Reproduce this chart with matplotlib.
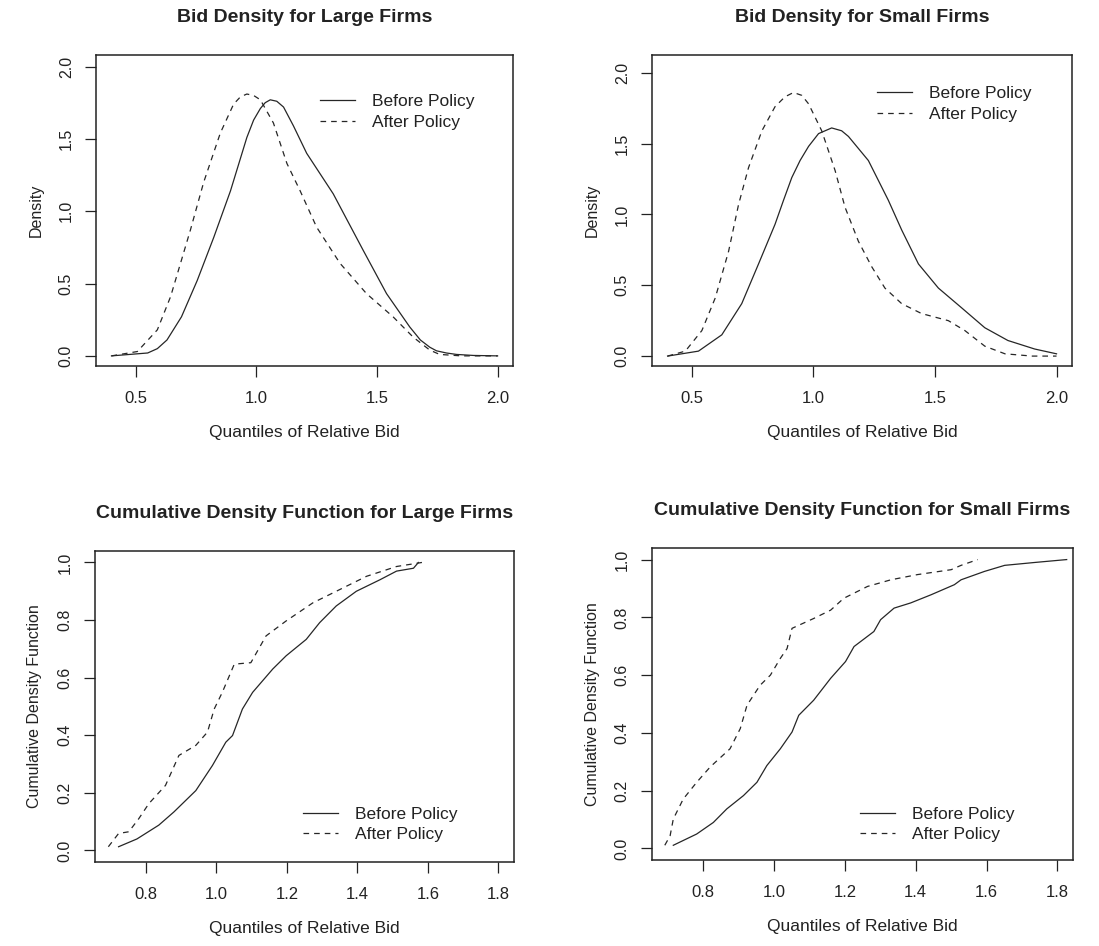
import numpy as np
import matplotlib.pyplot as plt

plt.rcParams['font.family'] = ['Liberation Sans', 'DejaVu Sans']

# Bid density, large firms
large_before_x = [0.40, 0.55, 0.59, 0.63, 0.69, 0.755, 0.824, 0.893, 0.961, 0.989, 1.017, 1.037,
                  1.058, 1.085, 1.113, 1.154, 1.209, 1.319, 1.443, 1.54, 1.636, 1.68, 1.719,
                  1.747, 1.788, 1.83, 1.9, 2.0]
large_before_y = [0.0, 0.02, 0.05, 0.11, 0.27, 0.52, 0.82, 1.14, 1.51, 1.63, 1.71, 1.75,
                  1.77, 1.76, 1.72, 1.59, 1.40, 1.12, 0.73, 0.43, 0.20, 0.11, 0.06,
                  0.035, 0.02, 0.01, 0.003, 0.0]
large_after_x = [0.40, 0.507, 0.59, 0.645, 0.686, 0.727, 0.782, 0.851, 0.906, 0.934, 0.961,
                 0.989, 1.017, 1.071, 1.127, 1.182, 1.25, 1.347, 1.457, 1.567, 1.65, 1.719,
                 1.76, 1.85, 2.0]
large_after_y = [0.0, 0.03, 0.18, 0.41, 0.64, 0.87, 1.20, 1.54, 1.74, 1.79, 1.81,
                 1.80, 1.77, 1.61, 1.33, 1.14, 0.89, 0.64, 0.43, 0.27, 0.13, 0.04,
                 0.01, 0.0, 0.0]

# Bid density, small firms
small_before_x = [0.40, 0.527, 0.623, 0.705, 0.774, 0.842, 0.877, 0.911, 0.945, 0.98, 1.021,
                  1.075, 1.116, 1.144, 1.226, 1.308, 1.363, 1.432, 1.514, 1.61, 1.705, 1.80,
                  1.91, 2.0]
small_before_y = [0.0, 0.035, 0.15, 0.37, 0.65, 0.93, 1.10, 1.26, 1.38, 1.48, 1.57,
                  1.61, 1.59, 1.55, 1.38, 1.10, 0.89, 0.65, 0.48, 0.34, 0.20, 0.11,
                  0.05, 0.016]
small_after_x = [0.40, 0.473, 0.541, 0.596, 0.651, 0.692, 0.733, 0.788, 0.842, 0.883, 0.918,
                 0.952, 0.98, 1.034, 1.089, 1.13, 1.185, 1.24, 1.294, 1.363, 1.445, 1.555,
                 1.623, 1.705, 1.788, 1.9, 2.0]
small_after_y = [0.0, 0.035, 0.18, 0.41, 0.74, 1.07, 1.33, 1.59, 1.76, 1.83, 1.86,
                 1.84, 1.78, 1.59, 1.31, 1.05, 0.81, 0.63, 0.48, 0.37, 0.30, 0.25,
                 0.18, 0.07, 0.016, 0.0, 0.0]

# Cumulative density, large firms
cdf_large_before_x = [0.723, 0.775, 0.837, 0.88, 0.942, 0.989, 1.027, 1.046, 1.074, 1.103,
                      1.16, 1.198, 1.255, 1.293, 1.34, 1.397, 1.464, 1.511, 1.559, 1.573]
cdf_large_before_y = [0.013, 0.04, 0.088, 0.134, 0.208, 0.295, 0.376, 0.399, 0.491, 0.549,
                      0.63, 0.676, 0.733, 0.791, 0.849, 0.90, 0.94, 0.97, 0.98, 1.0]
cdf_large_after_x = [0.694, 0.723, 0.752, 0.78, 0.809, 0.856, 0.894, 0.942, 0.975, 0.994,
                     1.017, 1.051, 1.098, 1.141, 1.198, 1.274, 1.35, 1.426, 1.511, 1.583]
cdf_large_after_y = [0.013, 0.059, 0.065, 0.11, 0.163, 0.226, 0.33, 0.365, 0.411, 0.491,
                     0.549, 0.647, 0.652, 0.745, 0.797, 0.86, 0.906, 0.952, 0.986, 1.0]

# Cumulative density, small firms
cdf_small_before_x = [0.716, 0.782, 0.829, 0.867, 0.914, 0.952, 0.98, 1.018, 1.051, 1.07,
                      1.112, 1.16, 1.202, 1.226, 1.282, 1.301, 1.339, 1.386, 1.443, 1.509,
                      1.528, 1.594, 1.651, 1.736, 1.826]
cdf_small_before_y = [0.011, 0.05, 0.09, 0.137, 0.183, 0.229, 0.287, 0.345, 0.403, 0.461,
                      0.513, 0.589, 0.647, 0.699, 0.751, 0.792, 0.832, 0.85, 0.878, 0.913,
                      0.93, 0.959, 0.98, 0.99, 1.0]
cdf_small_after_x = [0.692, 0.707, 0.716, 0.744, 0.782, 0.82, 0.876, 0.905, 0.924, 0.961,
                     0.99, 1.018, 1.037, 1.051, 1.112, 1.16, 1.197, 1.264, 1.33, 1.405,
                     1.50, 1.528, 1.575]
cdf_small_after_y = [0.011, 0.044, 0.102, 0.171, 0.229, 0.282, 0.345, 0.415, 0.496, 0.565,
                     0.60, 0.658, 0.692, 0.762, 0.796, 0.825, 0.866, 0.907, 0.93, 0.948,
                     0.965, 0.98, 1.0]

labels = ['Before Policy', 'After Policy']
density_ticks = [0.0, 0.5, 1.0, 1.5, 2.0]
density_xticks = [0.5, 1.0, 1.5, 2.0]
cdf_ticks = [0.0, 0.2, 0.4, 0.6, 0.8, 1.0]
cdf_xticks = [0.8, 1.0, 1.2, 1.4, 1.6, 1.8]

LINE = '#262626'
TXT = '#222222'


def style_axes(ax, xticks, yticks, xlim, ylim, ylabel):
    ax.set_xlim(*xlim)
    ax.set_ylim(*ylim)
    ax.set_xticks(xticks)
    ax.set_yticks(yticks)
    ax.set_xticklabels([f'{t:.1f}' for t in xticks], fontsize=12)
    ax.set_yticklabels([f'{t:.1f}' for t in yticks], rotation=90, va='center', fontsize=11.5)
    ax.tick_params(direction='out', length=8, width=0.9, color=TXT, labelcolor=TXT)
    ax.tick_params(axis='x', pad=10)
    ax.tick_params(axis='y', pad=8)
    for s in ax.spines.values():
        s.set_linewidth(1.1)
        s.set_color(TXT)
    ax.set_xlabel('Quantiles of Relative Bid', fontsize=12.5, labelpad=14, color=TXT)
    ax.set_ylabel(ylabel, fontsize=11.5, labelpad=11, color=TXT)


def draw(ax, bx, by, axx, ay, title, legend_anchor):
    ax.plot(bx, by, color=LINE, lw=0.9, label=labels[0])
    ax.plot(axx, ay, color=LINE, lw=0.9, linestyle=(0, (4.5, 4)), label=labels[1])
    ax.set_title(title, fontsize=14, fontweight='bold', pad=24, color=TXT)
    ax.legend(loc='upper left', bbox_to_anchor=legend_anchor, frameon=False,
              fontsize=12.5, handlelength=2.0, handletextpad=1.0, labelspacing=0.3,
              borderpad=0, borderaxespad=0, labelcolor=TXT)


fig = plt.figure(figsize=(10.99, 9.46), dpi=100)

ax1 = fig.add_axes([0.0874, 0.6131, 0.3794, 0.3288])
draw(ax1, large_before_x, large_before_y, large_after_x, large_after_y,
     'Bid Density for Large Firms', (0.537, 0.874))
style_axes(ax1, density_xticks, density_ticks, (0.336, 2.064), (-0.07, 2.08), 'Density')

ax2 = fig.add_axes([0.5933, 0.6131, 0.3822, 0.3288])
draw(ax2, small_before_x, small_before_y, small_after_x, small_after_y,
     'Bid Density for Small Firms', (0.536, 0.900))
style_axes(ax2, density_xticks, density_ticks, (0.336, 2.064), (-0.07, 2.125), 'Density')

ax3 = fig.add_axes([0.0864, 0.0888, 0.3813, 0.3288])
draw(ax3, cdf_large_before_x, cdf_large_before_y, cdf_large_after_x, cdf_large_after_y,
     'Cumulative Density Function for Large Firms', (0.496, 0.177))
style_axes(ax3, cdf_xticks, cdf_ticks, (0.656, 1.844), (-0.04, 1.04),
           'Cumulative Density Function')

ax4 = fig.add_axes([0.5933, 0.0909, 0.3831, 0.3298])
draw(ax4, cdf_small_before_x, cdf_small_before_y, cdf_small_after_x, cdf_small_after_y,
     'Cumulative Density Function for Small Firms', (0.494, 0.170))
style_axes(ax4, cdf_xticks, cdf_ticks, (0.656, 1.844), (-0.04, 1.04),
           'Cumulative Density Function')

fig.savefig('out.png', dpi=100, facecolor='white')
